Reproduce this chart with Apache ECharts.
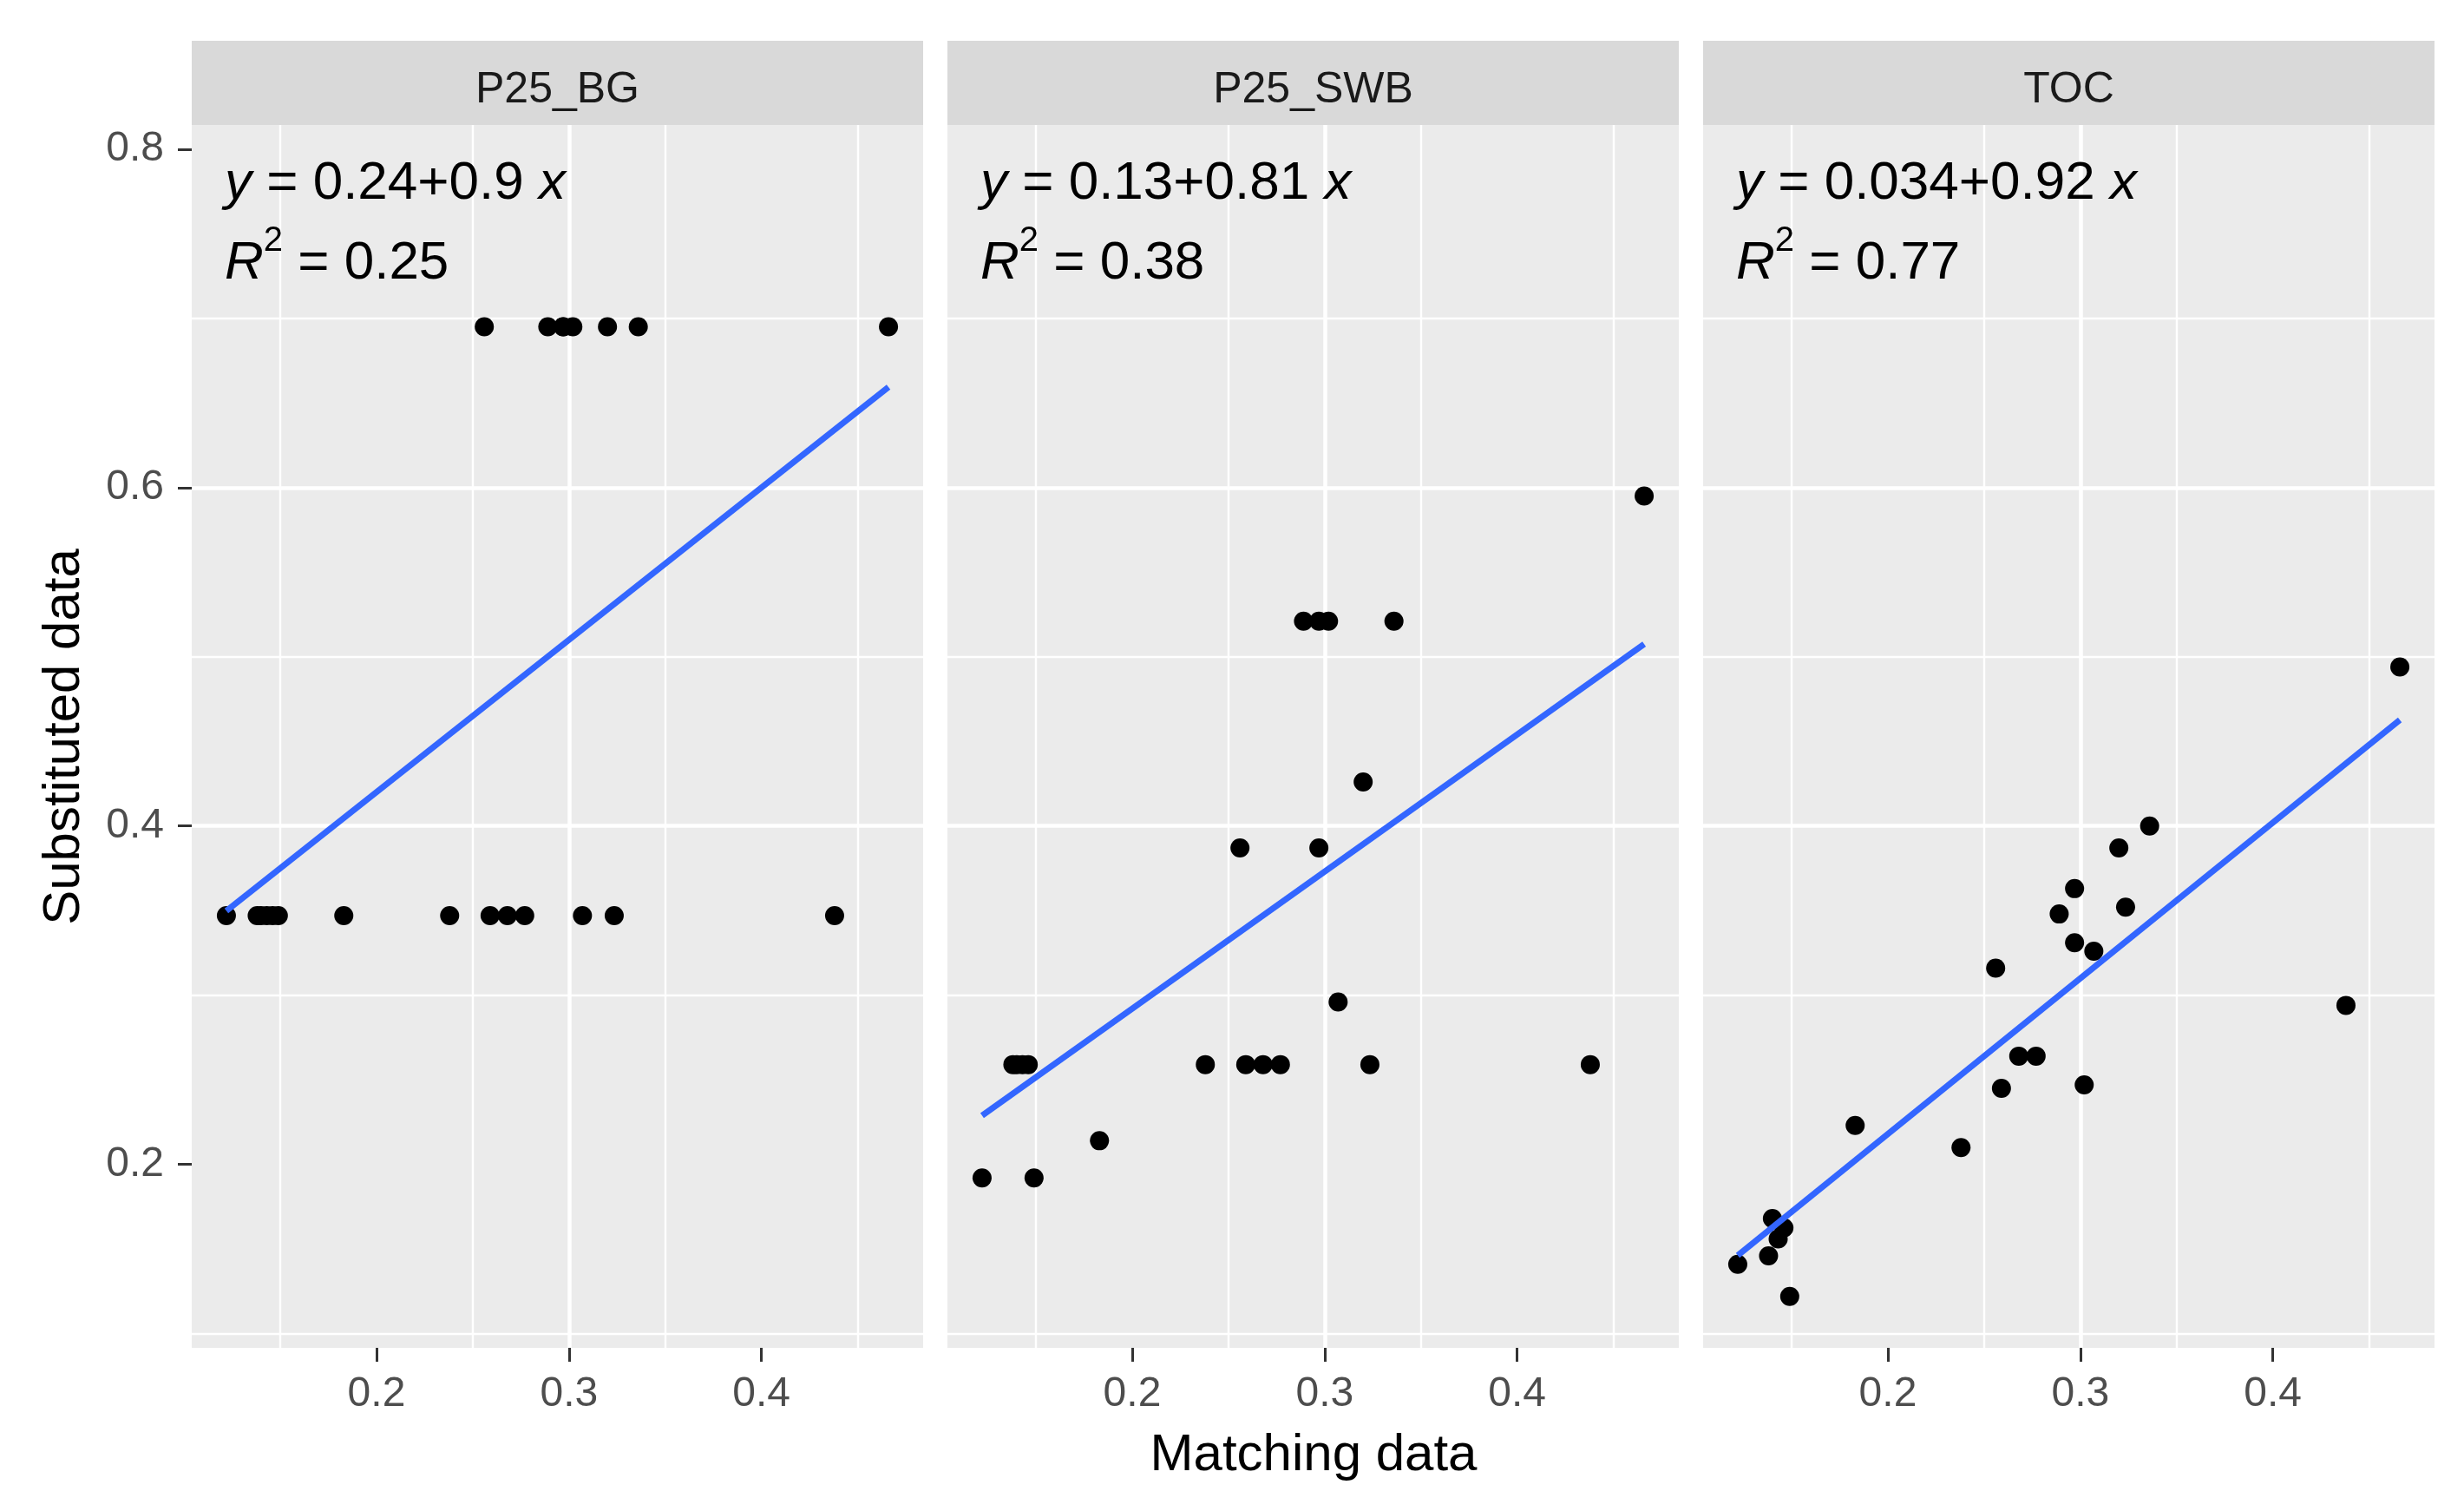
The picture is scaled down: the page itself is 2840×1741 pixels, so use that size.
<!DOCTYPE html>
<html>
<head>
<meta charset="utf-8">
<title>Substituted data vs Matching data</title>
<script src="https://cdn.jsdelivr.net/npm/echarts@6/dist/echarts.min.js"></script>
<style>
  html, body { margin: 0; padding: 0; background: #fff; }
  #chart { width: 2840px; height: 1741px; }
</style>
</head>
<body>
<div id="chart"></div>
<script>
'use strict';

// facet names (strip labels)
var facetNames = ['P25_BG', 'P25_SWB', 'TOC'];

// x: matching data, shared by the three panels
var matchingData = [0.122, 0.138, 0.140, 0.143, 0.146, 0.149, 0.183, 0.238, 0.256, 0.259, 0.268,
  0.277, 0.289, 0.297, 0.297, 0.302, 0.307, 0.320, 0.3235, 0.336, 0.438, 0.466];

// y: substituted data per panel
var bgData = [0.347, 0.347, 0.347, 0.347, 0.347, 0.347, 0.347, 0.347, 0.695, 0.347, 0.347,
  0.347, 0.695, 0.695, 0.695, 0.695, 0.347, 0.695, 0.347, 0.695, 0.347, 0.695];
var swbData = [0.192, 0.259, 0.259, 0.259, 0.259, 0.192, 0.214, 0.259, 0.387, 0.259, 0.259,
  0.259, 0.521, 0.521, 0.387, 0.521, 0.296, 0.426, 0.259, 0.521, 0.259, 0.595];
var tocData = [0.141, 0.146, 0.168, 0.156, 0.1625, 0.122, 0.223, 0.210, 0.316, 0.245, 0.264,
  0.264, 0.348, 0.363, 0.331, 0.247, 0.326, 0.387, 0.352, 0.400, 0.294, 0.494];

// fitted line labels as printed on the chart
var interceptLabels = ['0.24', '0.13', '0.034'];
var slopeLabels = ['0.9', '0.81', '0.92'];
var r2Labels = ['0.25', '0.38', '0.77'];

// tick labels
var xTicks = [0.2, 0.3, 0.4];
var yTicks = [0.2, 0.4, 0.6, 0.8];

$init();

function $init() {
  var chart = echarts.init(document.getElementById('chart'));
  var font = 'Liberation Sans, Arial, sans-serif';
  var panelLeft = [221, 1092, 1963];
  var panelWidth = 843;
  var panelTop = 144;
  var panelHeight = 1409;
  var yByPanel = [bgData, swbData, tocData];

  var grids = [], xAxes = [], yAxes = [], series = [], graphics = [];
  var xMin = Math.min.apply(null, matchingData);
  var xMax = Math.max.apply(null, matchingData);

  for (var i = 0; i < 3; i++) {
    grids.push({
      left: panelLeft[i], top: panelTop, width: panelWidth, height: panelHeight,
      show: true, backgroundColor: '#EBEBEB', borderWidth: 0
    });

    xAxes.push({
      type: 'value', gridIndex: i, min: 0.104, max: 0.484, splitNumber: 4,
      axisLine: { show: false },
      axisTick: { show: true, length: 16, customValues: xTicks, lineStyle: { color: '#333333', width: 3 } },
      axisLabel: {
        customValues: xTicks, margin: 30, fontSize: 48, fontFamily: font, color: '#4D4D4D',
        formatter: function(v) { return v.toFixed(1); }
      },
      splitLine: { show: true, showMinLine: false, showMaxLine: false, lineStyle: { color: '#FFFFFF', width: 4.5 } },
      minorTick: { show: false, splitNumber: 2 },
      minorSplitLine: { show: true, lineStyle: { color: '#FFFFFF', width: 2.4 } }
    });

    yAxes.push({
      type: 'value', gridIndex: i, min: 0.0916, max: 0.8143, splitNumber: 4,
      axisLine: { show: false },
      axisTick: { show: i === 0, length: 16, customValues: yTicks, lineStyle: { color: '#333333', width: 3 } },
      axisLabel: {
        show: i === 0, customValues: yTicks, margin: 32, fontSize: 48, fontFamily: font, color: '#4D4D4D',
        formatter: function(v) { return v.toFixed(1); }
      },
      splitLine: { show: true, showMinLine: false, showMaxLine: false, lineStyle: { color: '#FFFFFF', width: 4.5 } },
      minorTick: { show: false, splitNumber: 2 },
      minorSplitLine: { show: true, lineStyle: { color: '#FFFFFF', width: 2.4 } }
    });

    // points
    var pts = [];
    for (var k = 0; k < matchingData.length; k++) {
      pts.push([matchingData[k], yByPanel[i][k]]);
    }
    series.push({
      type: 'scatter', xAxisIndex: i, yAxisIndex: i, data: pts,
      symbolSize: 22, itemStyle: { color: '#000000', opacity: 1 }, z: 3
    });

    // fitted line y = a + b x over the data range
    var a = parseFloat(interceptLabels[i]);
    var b = parseFloat(slopeLabels[i]);
    series.push({
      type: 'line', xAxisIndex: i, yAxisIndex: i,
      data: [[xMin, a + b * xMin], [xMax, a + b * xMax]],
      showSymbol: false, lineStyle: { color: '#3366FF', width: 7 }, z: 4
    });

    // strip
    graphics.push({
      type: 'rect', left: panelLeft[i], top: 47,
      shape: { width: panelWidth, height: 97 },
      style: { fill: '#D9D9D9' }
    });
    graphics.push({
      type: 'text', x: panelLeft[i] + panelWidth / 2, y: 104,
      style: {
        text: facetNames[i], fill: '#1A1A1A', fontSize: 50, fontFamily: font,
        align: 'center', verticalAlign: 'middle'
      }
    });

    // equation and R²
    graphics.push({
      type: 'text', x: panelLeft[i] + 38, y: 212, z: 10,
      style: {
        text: '{i|y}{n| = ' + interceptLabels[i] + '+' + slopeLabels[i] + ' }{i|x}',
        align: 'left', verticalAlign: 'middle', fill: '#000000',
        rich: {
          i: { fontSize: 62, fontFamily: font, fontStyle: 'italic', color: '#000000' },
          n: { fontSize: 62, fontFamily: font, color: '#000000' }
        }
      }
    });
    graphics.push({
      type: 'text', x: panelLeft[i] + 38, y: 304, z: 10,
      style: {
        text: '{i|R}{sup|2}{n| = ' + r2Labels[i] + '}',
        align: 'left', verticalAlign: 'middle', fill: '#000000',
        rich: {
          i: { fontSize: 62, lineHeight: 92, fontFamily: font, fontStyle: 'italic', color: '#000000' },
          sup: { fontSize: 40, lineHeight: 40, fontFamily: font, verticalAlign: 'top', color: '#000000' },
          n: { fontSize: 62, lineHeight: 92, fontFamily: font, color: '#000000' }
        }
      }
    });
  }

  // axis titles
  graphics.push({
    type: 'text', x: 1514, y: 1677,
    style: { text: 'Matching data', fill: '#000000', fontSize: 60, fontFamily: font, align: 'center', verticalAlign: 'middle' }
  });
  graphics.push({
    type: 'text', x: 74, y: 849, rotation: Math.PI / 2,
    style: { text: 'Substituted data', fill: '#000000', fontSize: 60, fontFamily: font, align: 'center', verticalAlign: 'middle' }
  });

  chart.setOption({
    backgroundColor: '#FFFFFF',
    animation: false,
    grid: grids,
    xAxis: xAxes,
    yAxis: yAxes,
    series: series,
    graphic: graphics
  });

  window.onresize = chart.resize;
}
</script>
</body>
</html>
